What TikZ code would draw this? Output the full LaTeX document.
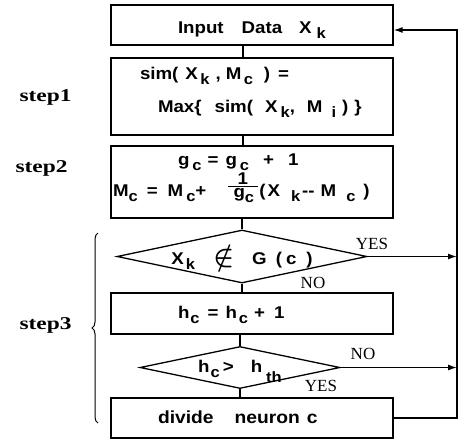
\documentclass[tikz,border=0pt]{standalone}
\usepackage{graphicx}
\usepackage{amsmath}
\usepackage{fontspec}
\setmainfont{Liberation Sans}[FakeStretch=1.1]
\newfontfamily\serifl{Liberation Serif}
\newfontfamily\serifw{Liberation Serif}[FakeStretch=1.3]
\usetikzlibrary{shapes.geometric,arrows.meta,decorations.pathreplacing}
\newcommand\lo[1]{\raisebox{-0.3em}{\fontsize{15}{15}\selectfont #1}}
\newcommand\hs[1]{\hspace{#1pt}}
\begin{document}
\begin{tikzpicture}[x=1pt,y=-1pt,
  box/.style={draw,line width=1.3pt,minimum width=282pt,inner sep=0pt,inner xsep=2pt,
    text width=278pt,align=left,font=\fontsize{17}{21}\selectfont\bfseries},
  dia/.style={draw,diamond,line width=1.3pt,inner sep=0pt,
    font=\fontsize{17}{21}\selectfont\bfseries},
  lab/.style={font=\serifl\fontsize{17}{17}\selectfont},
  steplab/.style={font=\serifw\bfseries\fontsize{18}{18}\selectfont,anchor=west},
  conn/.style={line width=1.3pt},
  arr/.style={line width=1.3pt,-{Latex[length=9pt,width=6pt]}}]
\useasboundingbox (0,0) rectangle (462,440);

\node[box,minimum height=40pt] (b1) at (252,25)
  {\rule[-12pt]{0pt}{40pt}\hspace*{65pt}Input\hs{18}Data\hs{17}X\hs{5}\lo{k}};
\node[box,minimum height=77pt] (b2) at (252,96.5)
  {\rule{0pt}{21pt}\hspace*{27pt}sim(\hs{7}X\hs{2.5}\lo{k}\hs{6},\hs{5}M\hs{2.4}\lo{c}\hs{11})\hs{8}=\\[12pt]%
   \rule[-23pt]{0pt}{23pt}\hspace*{45pt}Max\{\hs{13}sim(\hs{12}X\hs{3}\lo{k},\hs{12}M\hs{9}\lo{i}\hs{6})\hs{6}\}};
\node[box,minimum height=72pt] (b3) at (252,182)
  {\rule{0pt}{17pt}\hspace*{65pt}g\hs{3}\lo{c}\hs{6}=\hs{7}g\hs{3}\lo{c}\hs{14}+\hs{14}1\\[1pt]%
   \rule[-19pt]{0pt}{19pt}M\lo{c}\hs{9}=\hs{10}M\hs{3}\lo{c}+\hs{20}\raisebox{6pt}{$\genfrac{}{}{0.9pt}{}{\mbox{1}}{\mbox{\hs{6}g\lo{c}\hs{4}}}$}(\hs{2}X\hs{11}\lo{k}\hs{2}-{}-\hs{6}M\hs{10}\lo{c}\hs{8})};
\node[dia,minimum width=250pt,minimum height=53pt,shape aspect=4.7] (d1) at (242,256.5)
  {\raisebox{-8pt}[0pt][0pt]{X\hs{2}\lo{k}\hs{18}\raisebox{-1pt}{\scalebox{1.6}{$\boldsymbol{\notin}$}}\hs{18}G\hs{9}(\hs{4}c\hs{10})}};
\node[box,minimum height=41pt] (b4) at (252,313.5)
  {\rule[-16pt]{0pt}{41pt}\hspace*{65pt}h\hs{1}\lo{c}\hs{8}=\hs{7}h\hs{2}\lo{c}\hs{6}+\hs{9}1};
\node[dia,minimum width=200pt,minimum height=42pt,shape aspect=5] (d2) at (240,367.5)
  {\raisebox{-5pt}[0pt][0pt]{h\hs{1}\lo{c}\hs{3}>\hs{17}h\hs{4}\raisebox{-0.6em}{\fontsize{15}{15}\selectfont th}}};
\node[box,minimum height=40pt,font=\fontsize{17.5}{21}\selectfont\bfseries] (b5) at (252,418)
  {\rule[-15pt]{0pt}{40pt}\hspace*{45pt}divide\hs{21}neuron\hs{7}c};

\coordinate (ax) at (243,0);
\coordinate (rx) at (457,0);
\coordinate (b1in) at ([yshift=-5pt]b1.east);

\draw[conn] (b1.south -| ax) -- (b2.north -| ax);
\draw[conn] (b2.south -| ax) -- (b3.north -| ax);
\draw[conn] (b3.south -| d1.north) -- (d1.north);
\draw[conn] (d1.south) -- (b4.north -| d1.south);
\draw[conn] (b4.south -| d2.north) -- (d2.north);
\draw[conn] (d2.south) -- (b5.north -| d2.south);
\draw[arr] (d1.east) -- (d1.east -| rx);
\draw[arr] (d2.east) -- (d2.east -| rx);
\draw[arr] (b5.east) -- (b5.east -| rx) -- (rx |- b1in) -- (b1in);

\node[lab] (yes1) at (372,244) {YES};
\node[lab] (no1) at (313,283) {NO};
\node[lab] (no2) at (363,354) {NO};
\node[lab] (yes2) at (321,386) {YES};
\node[steplab] (s1) at (16,97) {step1};
\node[steplab] (s2) at (12,168) {step2};
\node[steplab] (s3) at (16,325) {step3};
\draw[decorate,decoration={brace,amplitude=6pt},line width=1pt] (98,423) -- (98,233);
\end{tikzpicture}
\end{document}
